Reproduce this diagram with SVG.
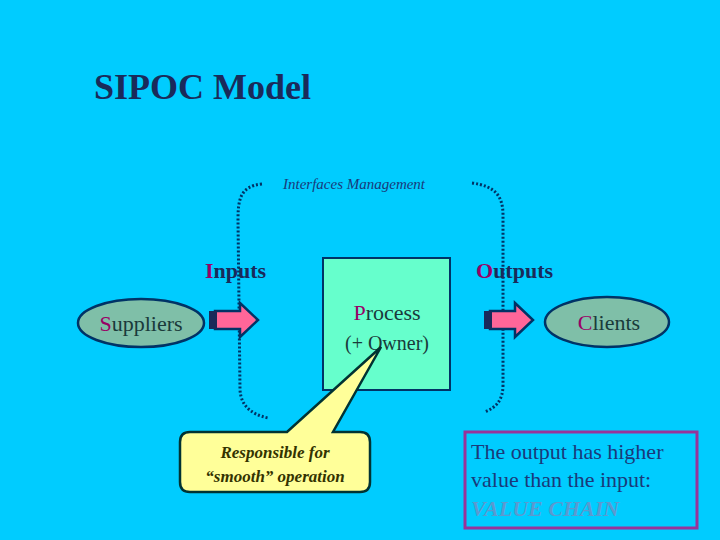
<svg xmlns="http://www.w3.org/2000/svg" width="720" height="540" viewBox="0 0 720 540">
<style>
.t{font-family:"Liberation Serif",serif}
.cap{fill:#990066}
.ell{fill:#7fbfa8;stroke:#003366;stroke-width:2.5}
.arr{fill:#ff6699;stroke:#003366;stroke-width:2.5}
.dot{fill:none;stroke:#003366;stroke-width:3;stroke-dasharray:2 2}
</style>
<rect width="720" height="540" fill="#00ccff"/>
<text class="t" x="94" y="99" font-size="36" font-weight="bold" fill="#1a2a5a">SIPOC Model</text>
<g id="connectors">
<path class="dot" d="M262,184 C240,186 238,200 238,220 L240,390 C241,405 250,414 268,418"/>
<path class="dot" d="M472,183 C495,186 503,196 503,215 L503,385 C503,400 496,408 484,412"/>
<g id="in-arrow"><path class="arr" d="M215,311 H240 V303 L258,320 L240,337 V329 H215 Z"/><rect x="209" y="311" width="8" height="18" fill="#1a2a5a"/></g>
<g id="out-arrow"><path class="arr" d="M490,311 H515 V303 L533,320 L515,337 V329 H490 Z"/><rect x="484" y="311" width="8" height="18" fill="#1a2a5a"/></g>
</g>
<text class="t" x="283" y="189" font-size="15" font-style="italic" fill="#1a3a7a">Interfaces Management</text>
<g id="inputs"><text class="t" x="205" y="278" font-size="22" font-weight="bold" fill="#1a2a5a"><tspan class="cap">I</tspan>nputs</text></g>
<g id="outputs"><text class="t" x="476" y="278" font-size="22" font-weight="bold" fill="#1a2a5a"><tspan class="cap">O</tspan>utputs</text></g>
<g id="suppliers"><ellipse class="ell" cx="141" cy="323" rx="63" ry="24"/><text class="t" x="141" y="331" font-size="22" text-anchor="middle" fill="#1a3a3a"><tspan class="cap">S</tspan>uppliers</text></g>
<g id="clients"><ellipse class="ell" cx="607" cy="322" rx="62" ry="25"/><text class="t" x="609" y="330" font-size="22" text-anchor="middle" fill="#1a3a3a"><tspan class="cap">C</tspan>lients</text></g>
<g id="process"><rect x="323" y="258" width="127" height="132" fill="#66ffcc" stroke="#003366" stroke-width="2"/>
<text class="t" x="387" y="320" font-size="22" text-anchor="middle" fill="#1a3a3a"><tspan class="cap">P</tspan>rocess</text>
<text class="t" x="387" y="350" font-size="20" text-anchor="middle" fill="#1a3a3a">(+ Owner)</text></g>
<g id="callout"><path d="M190,432 H287 L381,347 L333,432 H360 Q370,432 370,442 V482 Q370,492 360,492 H190 Q180,492 180,482 V442 Q180,432 190,432 Z" fill="#ffff99" stroke="#003333" stroke-width="2.5"/>
<text class="t" x="275" y="458" font-size="17" font-weight="bold" font-style="italic" text-anchor="middle" fill="#333300">Responsible for</text>
<text class="t" x="275" y="482" font-size="17" font-weight="bold" font-style="italic" text-anchor="middle" fill="#333300">“smooth” operation</text></g>
<g id="valuechain"><rect x="465" y="432" width="232" height="96" fill="none" stroke="#993399" stroke-width="3"/>
<text class="t" x="471" y="459" font-size="22" fill="#1a3a7a">The output has higher</text>
<text class="t" x="471" y="487" font-size="22" fill="#1a3a7a">value than the input:</text>
<text class="t" x="471" y="516" font-size="22" font-style="italic" font-weight="bold" fill="#5a9ad0">VALUE CHAIN</text></g>
</svg>
